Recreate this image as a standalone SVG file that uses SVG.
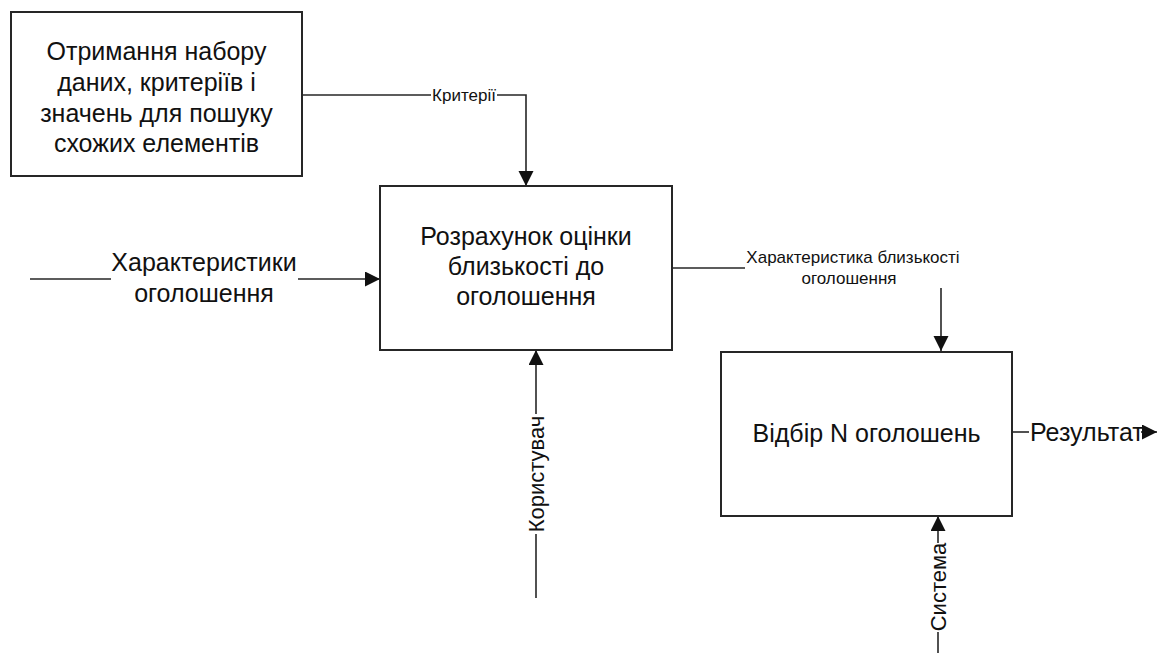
<svg xmlns="http://www.w3.org/2000/svg" width="1157" height="653" viewBox="0 0 1157 653">
<defs>
<style>
.box{fill:#fff;stroke:#262626;stroke-width:2}
.ln{fill:none;stroke:#262626;stroke-width:1.6}
.t{font-family:"Liberation Sans",Arial,sans-serif;fill:#111;text-anchor:middle}
.big{font-size:25px}
.mid{font-size:25px}
.rot{font-size:22px}
.sm{font-size:17px}
</style>
<marker id="arr" markerUnits="userSpaceOnUse" markerWidth="16" markerHeight="16" refX="15" refY="7.5" orient="auto">
<path d="M0,0 L15,7.5 L0,15 z" fill="#111"/>
</marker>
</defs>
<rect width="1157" height="653" fill="#fff"/>
<g id="connectors">
<path class="ln" d="M302,95 H431"/>
<path class="ln" d="M497,95 H526 V186" marker-end="url(#arr)"/>
<path class="ln" d="M30,279 H111"/>
<path class="ln" d="M298,279 H380" marker-end="url(#arr)"/>
<path class="ln" d="M672,268 H745"/>
<path class="ln" d="M941,288 V351" marker-end="url(#arr)"/>
<path class="ln" d="M536,598 V534"/>
<path class="ln" d="M536,414 V350" marker-end="url(#arr)"/>
<path class="ln" d="M938,653 V632"/>
<path class="ln" d="M938,543 V516" marker-end="url(#arr)"/>
<path class="ln" d="M1012,432 H1029"/>
<path class="ln" d="M1141,432 H1157" marker-end="url(#arr)"/>
<text class="t sm" x="464" y="101">Критерії</text>
<text class="t mid" x="204" y="271">Характеристики</text>
<text class="t mid" x="204" y="302">оголошення</text>
<text class="t sm" x="853" y="263">Характеристика близькості</text>
<text class="t sm" x="849" y="284">оголошення</text>
<text class="t rot" transform="translate(536,474) rotate(-90)" y="8">Користувач</text>
<text class="t rot" transform="translate(938,587) rotate(-90)" y="8">Система</text>
<text class="t mid" x="1030" y="441" style="text-anchor:start">Результат</text>
</g>
<g id="node-1">
<rect class="box" x="11" y="12" width="291" height="164"/>
<text class="t big" x="156.5" y="60">Отримання набору</text>
<text class="t big" x="156.5" y="91">даних, критеріїв і</text>
<text class="t big" x="156.5" y="122">значень для пошуку</text>
<text class="t big" x="156.5" y="152">схожих елементів</text>
</g>
<g id="node-2">
<rect class="box" x="380" y="186" width="292" height="164"/>
<text class="t big" x="526" y="245">Розрахунок оцінки</text>
<text class="t big" x="526" y="275">близькості до</text>
<text class="t big" x="526" y="305">оголошення</text>
</g>
<g id="node-3">
<rect class="box" x="721" y="352" width="291" height="164"/>
<text class="t big" x="866.5" y="442">Відбір N оголошень</text>
</g>
</svg>
